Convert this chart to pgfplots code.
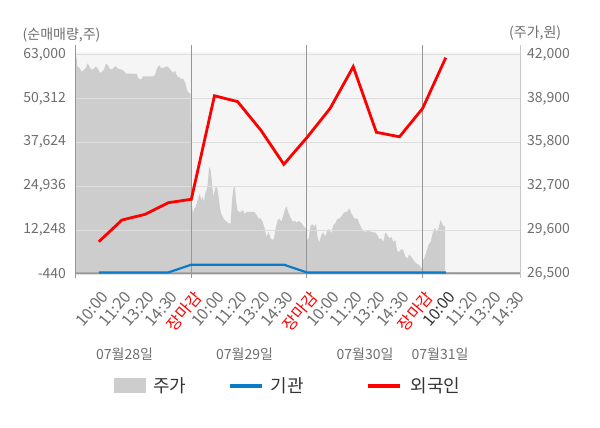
\documentclass[border=0pt]{standalone}
\usepackage{fontspec}
\setmainfont{Noto Sans CJK KR}
\usepackage{pgfplots}
\pgfplotsset{compat=1.18}
\definecolor{bgc}{RGB}{245,245,245}
\definecolor{areac}{RGB}{205,205,205}
\definecolor{gridc}{RGB}{222,222,222}
\definecolor{vlc}{RGB}{150,150,150}
\definecolor{rac}{RGB}{200,200,200}
\definecolor{txtc}{RGB}{110,110,110}
\definecolor{bluec}{RGB}{10,123,200}
\definecolor{legc}{RGB}{51,51,51}
\newcommand\fs[1]{\fontsize{#1}{#1}\selectfont}

\pgfplotstableread{
x y
0.00 41160
0.03 41940
0.07 41160
0.17 41040
0.26 40760
0.35 40900
0.44 41040
0.52 41370
0.61 41090
0.70 40900
0.78 40990
0.87 41160
0.96 40990
1.05 40690
1.13 40760
1.22 40920
1.31 41370
1.39 41230
1.48 40990
1.57 40920
1.66 41090
1.74 41160
1.83 40990
1.92 40950
2.01 40920
2.09 40810
2.18 40640
2.38 40640
2.65 40620
2.70 40330
2.82 40210
2.91 40450
3.11 40450
3.34 40450
3.43 40570
3.52 41040
3.61 41230
3.69 41040
3.78 41040
3.87 41110
3.95 41160
4.04 41040
4.13 40850
4.22 40690
4.30 40850
4.39 40450
4.48 40380
4.56 40280
4.65 40280
4.74 39980
4.83 39390
4.91 39270
4.97 39220
4.98 34420
5.02 31490
5.07 30780
5.13 31130
5.19 31250
5.25 31600
5.31 31950
5.37 32190
5.42 31720
5.48 31950
5.54 31600
5.60 32190
5.66 32430
5.71 32900
5.77 34070
5.83 33840
5.89 33010
5.95 31950
6.01 32430
6.06 32660
6.12 32550
6.18 31950
6.24 31130
6.29 30780
6.35 30540
6.44 30310
6.53 30190
6.62 30070
6.70 30070
6.76 31720
6.82 32550
6.88 32660
6.93 31720
6.99 31010
7.05 30890
7.14 30890
7.23 31010
7.31 30730
7.40 30890
7.55 30890
7.73 30890
7.82 30660
7.90 30430
7.99 30430
8.08 30190
8.17 29720
8.25 29130
8.34 29480
8.43 29010
8.51 28890
8.57 29010
8.63 29600
8.71 30190
8.80 30430
8.89 30190
8.98 30660
9.06 31130
9.12 31250
9.21 30780
9.30 30430
9.39 30190
9.47 30260
9.56 30120
9.65 30260
9.76 30070
9.85 29880
9.94 29720
9.99 29720
10.00 28890
10.07 29010
10.16 29950
10.25 30000
10.33 29830
10.39 30070
10.45 29130
10.53 28730
10.62 29250
10.70 29440
10.79 29130
10.88 29600
10.96 29670
11.05 29370
11.14 29950
11.22 30070
11.31 30380
11.40 30430
11.48 30540
11.57 30780
11.66 30890
11.74 30890
11.83 31130
11.92 30780
12.00 30540
12.09 30380
12.18 30430
12.26 30070
12.35 29760
12.43 29530
12.52 29480
12.61 29530
12.69 29530
12.78 29480
12.87 29440
12.95 29440
13.04 29250
13.13 28960
13.21 29010
13.30 28770
13.39 29440
13.47 29250
13.56 29010
13.64 29130
13.73 28770
13.82 28890
13.90 28120
13.99 28070
14.08 28260
14.16 28190
14.25 27720
14.34 27600
14.42 27880
14.51 27720
14.60 27480
14.68 27320
14.77 27200
14.86 27130
14.94 26940
14.99 26900
15.00 27360
15.09 27720
15.17 28120
15.26 28590
15.35 28770
15.43 29370
15.52 29760
15.61 29480
15.69 29720
15.78 30310
15.87 29950
15.92 29900
15.97 29900
}\pricetable

\pgfplotstableread{
x y
1 8900
2 15150
3 16800
4 20150
5 21150
6 51050
7 49350
8 41150
9 31250
10 39000
11 47400
12 59450
13 40500
14 39200
15 47400
16 62050
}\foreigntable

\pgfplotstableread{
x y
1 0
2 0
3 0
4 0
5 2250
6 2250
7 2250
8 2250
9 2250
10 0
11 0
12 0
13 0
14 0
15 0
16 0
}\insttable

\begin{document}
\begin{tikzpicture}
\useasboundingbox (0pt,0pt) rectangle (600pt,428pt);

% price axis (right)
\begin{axis}[at={(75.7pt,154pt)}, anchor=south west, scale only axis,
  width=444.3pt, height=219.6pt,
  xmin=0, xmax=19.21, ymin=26500, ymax=42000, clip=false,
  scaled ticks=false,
  axis x line=none, axis y line*=right, y axis line style={draw=none},
  ytick={26500,29600,32700,35800,38900,42000},
  yticklabels={{26,500},{29,600},{32,700},{35,800},{38,900},{42,000}},
  major tick length=0pt,
  yticklabel style={font=\fs{14}, text=txtc, anchor=west, inner sep=0pt, xshift=7pt}]
\fill[bgc] (rel axis cs:0,0) rectangle ([yshift=2.7pt]rel axis cs:1,1);
\addplot[fill=areac, draw=none] table[x=x,y=y] {\pricetable} \closedcycle;
\end{axis}

% net buying axis (left)
\begin{axis}[at={(75.7pt,154pt)}, anchor=south west, scale only axis,
  width=444.3pt, height=219.6pt,
  xmin=0, xmax=19.21, ymin=-440, ymax=63000, clip=false,
  scaled ticks=false,
  axis line style={draw=none},
  ymajorgrids, grid style={gridc, line width=0.8pt},
  ytick={-440,12248,24936,37624,50312,63000},
  yticklabels={{-440},{12,248},{24,936},{37,624},{50,312},{63,000}},
  xtick={1,...,19},
  xticklabels={10:00,11:20,13:20,14:30,\textcolor{red}{장마감},10:00,11:20,13:20,14:30,\textcolor{red}{장마감},10:00,11:20,13:20,14:30,\textcolor{red}{장마감},\textcolor{legc}{10:00},11:20,13:20,14:30},
  major tick length=0pt,
  yticklabel style={font=\fs{14}, text=txtc, anchor=east, inner sep=0pt, xshift=-9.5pt},
  xticklabel style={font=\fs{16}, text=txtc, rotate=50, anchor=north east, inner sep=0pt, xshift=-11pt, yshift=-11pt}]
\draw[vlc!80, line width=0.8pt] (axis cs:0,0) -- (axis cs:19.21,0);
\draw[vlc, line width=1pt] (axis cs:0,-440) -- (axis cs:19.21,-440);
\draw[vlc, line width=1pt] ([yshift=-4pt]axis cs:0,-440) -- ([yshift=9.4pt]axis cs:0,63000);
\draw[vlc, line width=1pt] ([yshift=-4pt]axis cs:5,-440) -- ([yshift=9.4pt]axis cs:5,63000);
\draw[vlc, line width=1pt] ([yshift=-4pt]axis cs:10,-440) -- ([yshift=9.4pt]axis cs:10,63000);
\draw[vlc, line width=1pt] ([yshift=-4pt]axis cs:15,-440) -- ([yshift=9.4pt]axis cs:15,63000);
\draw[rac, line width=1pt] ([yshift=-4pt]axis cs:19.21,-440) -- ([yshift=9.4pt]axis cs:19.21,63000);
\addplot[bluec, line width=2.2pt] table[x=x,y=y] {\insttable};
\addplot[red, line width=2.8pt] table[x=x,y=y] {\foreigntable};
\end{axis}

% axis titles
\node[anchor=west, inner sep=0pt, font=\fs{14}, text=txtc] at (22.5pt,393pt) {(순매매량,주)};
\node[anchor=west, inner sep=0pt, font=\fs{14}, text=txtc] at (509pt,395pt) {(주가,원)};

% date labels
\node[font=\fs{14}, text=txtc, inner sep=0pt] at (124.5pt,74pt) {07월28일};
\node[font=\fs{14}, text=txtc, inner sep=0pt] at (244.5pt,74pt) {07월29일};
\node[font=\fs{14}, text=txtc, inner sep=0pt] at (365pt,74pt) {07월30일};
\node[font=\fs{14}, text=txtc, inner sep=0pt] at (440pt,74pt) {07월31일};

% legend
\fill[areac] (114pt,35pt) rectangle (146pt,50pt);
\node[anchor=west, inner sep=0pt, font=\fs{18}, text=legc] at (153pt,42pt) {주가};
\draw[bluec, line width=4pt] (230pt,42pt) -- (262pt,42pt);
\node[anchor=west, inner sep=0pt, font=\fs{18}, text=legc] at (270.5pt,42pt) {기관};
\draw[red, line width=4pt] (368pt,42pt) -- (400pt,42pt);
\node[anchor=west, inner sep=0pt, font=\fs{18}, text=legc] at (410.5pt,42pt) {외국인};
\end{tikzpicture}
\end{document}
